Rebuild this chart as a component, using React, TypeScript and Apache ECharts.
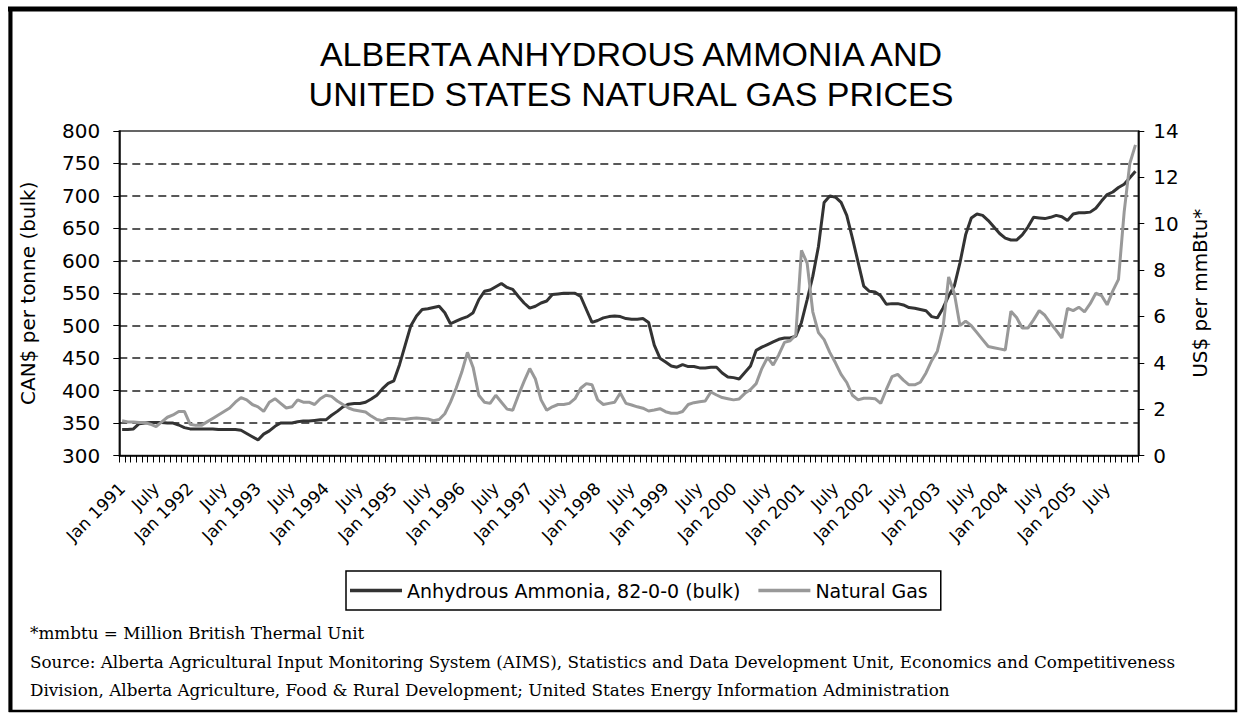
import React, { useEffect, useRef } from "react";
import * as echarts from "echarts";

const years = [1991, 1992, 1993, 1994, 1995, 1996, 1997, 1998, 1999, 2000, 2001, 2002, 2003, 2004, 2005];
const monthNames = ["Jan", "Feb", "Mar", "Apr", "May", "Jun", "Jul", "Aug", "Sep", "Oct", "Nov", "Dec"];
const categories = years.flatMap((y) => monthNames.map((m) => `${m} ${y}`));

const tickLabels = [
  "Jan 1991", "July", "Jan 1992", "July", "Jan 1993", "July", "Jan 1994", "July",
  "Jan 1995", "July", "Jan 1996", "July", "Jan 1997", "July", "Jan 1998", "July",
  "Jan 1999", "July", "Jan 2000", "July", "Jan 2001", "July", "Jan 2002", "July",
  "Jan 2003", "July", "Jan 2004", "July", "Jan 2005", "July",
];

// CAN$ per tonne (bulk), monthly Jan 1991 - Dec 2005
const ammonia = [
  340, 340, 341, 349, 350, 351, 351, 351, 350, 350, 347, 343,
  341, 341, 341, 341, 341, 340, 340, 340, 340, 339, 334, 329,
  324, 333, 338, 345, 350, 350, 350, 352, 353, 353, 354, 355,
  355, 362, 368, 375, 379, 380, 380, 382, 387, 393, 403, 411,
  415, 440, 470, 500, 515, 525, 526, 528, 530, 520, 503, 507,
  511, 514, 520, 540, 553, 555, 560, 565, 559, 556, 545, 535,
  527, 530, 535, 538, 548, 549, 550, 550, 550, 545, 525, 505,
  508, 512, 514, 515, 514, 511, 510, 510, 511, 505, 470, 450,
  444, 438, 436, 440, 437, 437, 435, 435, 436, 436, 427, 421,
  420, 418, 428, 438, 462, 467, 471, 475, 479, 481, 481, 484,
  505, 540, 576, 622, 690, 700, 698, 690, 670, 635, 598, 561,
  553, 552, 546, 533, 534, 534, 532, 528, 527, 525, 523, 514,
  512, 527, 546, 561, 597, 640, 666, 672, 670, 662, 652, 642,
  635, 632, 632, 640, 652, 667, 666, 665, 667, 670, 668, 662,
  672, 674, 674, 675, 681, 692, 702, 706, 713, 718, 728, 738,
];

// US$ per mmBtu, monthly Jan 1991 - Dec 2005
const gas = [
  1.5, 1.45, 1.45, 1.42, 1.42, 1.35, 1.25, 1.45, 1.65, 1.75, 1.9, 1.9,
  1.35, 1.3, 1.3, 1.45, 1.6, 1.75, 1.9, 2.05, 2.3, 2.5, 2.4, 2.2,
  2.1, 1.9, 2.3, 2.45, 2.25, 2.05, 2.1, 2.4, 2.3, 2.3, 2.2, 2.45,
  2.6, 2.55, 2.35, 2.2, 2.05, 1.96, 1.92, 1.88, 1.7, 1.55, 1.5, 1.6,
  1.6, 1.58, 1.55, 1.6, 1.62, 1.6, 1.58, 1.5, 1.55, 1.8, 2.3, 2.9,
  3.6, 4.45, 3.8, 2.6, 2.3, 2.25, 2.6, 2.3, 2.0, 1.95, 2.6, 3.2,
  3.75, 3.3, 2.4, 1.95, 2.1, 2.2, 2.2, 2.25, 2.45, 2.9, 3.1, 3.05,
  2.4, 2.2, 2.25, 2.3, 2.7, 2.25, 2.18, 2.1, 2.04, 1.92, 1.96, 2.02,
  1.89, 1.82, 1.82, 1.9, 2.2, 2.28, 2.32, 2.35, 2.74, 2.61, 2.5, 2.45,
  2.4, 2.44, 2.68, 2.85, 3.1, 3.75, 4.23, 3.9, 4.35, 4.88, 4.95, 5.2,
  8.85, 8.3, 6.2, 5.3, 5.0, 4.45, 4.0, 3.5, 3.15, 2.6, 2.4, 2.47,
  2.47, 2.45, 2.25, 2.85, 3.4, 3.5, 3.25, 3.05, 3.05, 3.16, 3.56, 4.09,
  4.5, 5.5, 7.7, 7.0, 5.6, 5.8, 5.6, 5.3, 5.0, 4.7, 4.65, 4.6,
  4.55, 6.22, 5.95, 5.5, 5.5, 5.85, 6.25, 6.05, 5.7, 5.4, 5.07, 6.35,
  6.25, 6.4, 6.2, 6.55, 7.0, 6.9, 6.5, 7.1, 7.6, 10.5, 12.6, 13.4,
];

const seriesNames = ["Anhydrous Ammonia, 82-0-0 (bulk)", "Natural Gas"];
const footnotes = [
  "*mmbtu = Million British Thermal Unit",
  "Source: Alberta Agricultural Input Monitoring System (AIMS), Statistics and Data Development Unit, Economics and Competitiveness",
  "Division, Alberta Agriculture, Food & Rural Development; United States Energy Information Administration",
];

const SANS = "DejaVu Sans";
const SERIF = "DejaVu Serif";

export default function App() {
  const ref = useRef<HTMLDivElement>(null);

  useEffect(() => {
    if (!ref.current) return;
    const chart = echarts.init(ref.current, null, { renderer: "svg" });

    const option: any = {
      animation: false,
      backgroundColor: "#ffffff",
      title: {
        text: "ALBERTA ANHYDROUS AMMONIA AND\nUNITED STATES NATURAL GAS PRICES",
        left: 626,
        top: 29,
        textAlign: "center",
        textStyle: {
          fontFamily: "Liberation Sans, Arial, sans-serif",
          fontSize: 34,
          fontWeight: "normal",
          lineHeight: 40,
          color: "#000",
        },
      },
      legend: {
        data: seriesNames,
        left: 346,
        top: 571,
        icon: "rect",
        itemWidth: 52,
        itemHeight: 3.5,
        itemGap: 18,
        padding: [10, 13, 10, 4],
        borderColor: "#000",
        borderWidth: 1.5,
        textStyle: { fontFamily: SANS, fontSize: 19, color: "#000" },
      },
      grid: {
        left: 119.3,
        right: 100.7,
        top: 131,
        bottom: 259.5,
        show: true,
        borderColor: "#333",
        borderWidth: 1.5,
        backgroundColor: "transparent",
      },
      xAxis: {
        type: "category",
        data: categories,
        boundaryGap: true,
        axisLine: { show: true, lineStyle: { color: "#000", width: 1.5 } },
        axisTick: { show: true, interval: 0, length: 7, lineStyle: { color: "#000", width: 1 } },
        axisLabel: {
          interval: (i: number) => i % 6 === 0,
          formatter: (_v: string, i: number) => tickLabels[i / 6] ?? "",
          rotate: 45,
          margin: 30,
          fontFamily: SANS,
          fontSize: 17,
          color: "#000",
          hideOverlap: false,
        },
        splitLine: { show: false },
      },
      yAxis: [
        {
          type: "value",
          min: 300,
          max: 800,
          interval: 50,
          position: "left",
          name: "CAN$ per tonne (bulk)",
          nameLocation: "middle",
          nameGap: 81,
          nameTextStyle: { fontFamily: SANS, fontSize: 20, color: "#000" },
          axisLine: { show: true, lineStyle: { color: "#000", width: 1.5 } },
          axisTick: { show: true, length: 6, lineStyle: { color: "#000", width: 1 } },
          axisLabel: { margin: 19, fontFamily: SANS, fontSize: 20, color: "#000" },
          splitLine: {
            show: true,
            showMinLine: false,
            showMaxLine: false,
            lineStyle: { type: [8, 5], color: "#222", width: 1.6 },
          },
        },
        {
          type: "value",
          min: 0,
          max: 14,
          interval: 2,
          position: "right",
          name: "US$ per mmBtu*",
          nameLocation: "middle",
          nameGap: 52,
          nameTextStyle: { fontFamily: SANS, fontSize: 20, color: "#000" },
          axisLine: { show: true, lineStyle: { color: "#000", width: 1.5 } },
          axisTick: { show: true, length: 6, lineStyle: { color: "#000", width: 1 } },
          axisLabel: { margin: 15, fontFamily: SANS, fontSize: 20, color: "#000" },
          splitLine: { show: false },
        },
      ],
      series: [
        {
          name: seriesNames[0],
          type: "line",
          data: ammonia,
          yAxisIndex: 0,
          symbol: "none",
          lineStyle: { color: "#333", width: 3 },
          itemStyle: { color: "#333" },
        },
        {
          name: seriesNames[1],
          type: "line",
          data: gas,
          yAxisIndex: 1,
          symbol: "none",
          lineStyle: { color: "#999", width: 3 },
          itemStyle: { color: "#999" },
        },
      ],
      graphic: [
        {
          type: "rect",
          silent: true,
          shape: { x: 10, y: 9, width: 1226, height: 702 },
          style: { fill: "none", stroke: "#000", lineWidth: 2.5 },
        },
        {
          type: "line",
          silent: true,
          shape: { x1: 8, y1: 9, x2: 1237, y2: 9 },
          style: { stroke: "#000", lineWidth: 5 },
        },
        {
          type: "line",
          silent: true,
          shape: { x1: 10.5, y1: 7, x2: 10.5, y2: 712 },
          style: { stroke: "#000", lineWidth: 4 },
        },
        ...footnotes.map((t, k) => ({
          type: "text",
          silent: true,
          x: 30,
          y: 633 + k * 28.5,
          style: {
            text: t,
            fontFamily: SERIF,
            fontSize: 16.8,
            fill: "#000",
            align: "left",
            verticalAlign: "middle",
          },
        })),
      ],
    };

    chart.setOption(option);
    return () => chart.dispose();
  }, []);

  return (
    <div
      ref={ref}
      style={{ position: "absolute", left: 0, top: 0, width: 1239, height: 715, background: "#fff" }}
    />
  );
}
